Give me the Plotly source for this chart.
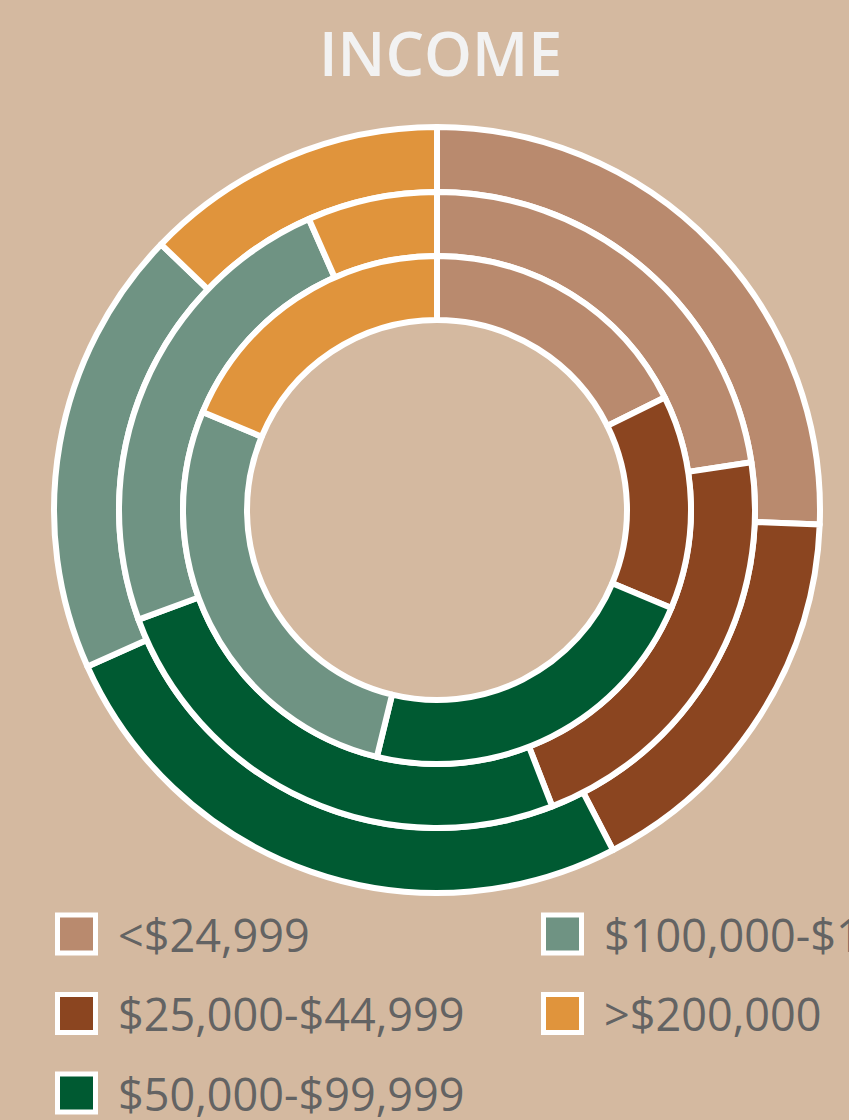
import plotly.graph_objects as go

# ---- data ----
labels = ["<$24,999", "$25,000-$44,999", "$50,000-$99,999", "$100,000-$199,999", ">$200,000"]
colors = ["#B98A6E", "#8B4520", "#005A32", "#6F9383", "#E0943C"]
outer_ring = [25.6, 16.8, 25.9, 18.9, 12.8]
middle_ring = [22.6, 21.5, 25.3, 24.0, 6.6]
inner_ring = [17.7, 13.6, 22.5, 27.5, 18.7]
title_text = "INCOME"

W, H = 849, 1120
BG = "#D4B9A0"
cx, cy = 437, 510


def dom(r):
    return dict(x=[(cx - r) / W, (cx + r) / W],
                y=[(H - cy - r) / H, (H - cy + r) / H])


rings = [(outer_ring, 383, 318), (middle_ring, 318, 254), (inner_ring, 254, 190)]

fig = go.Figure()
for vals, r_out, r_in in rings:
    fig.add_trace(go.Pie(
        labels=labels, values=vals, sort=False, direction="clockwise", rotation=0,
        hole=r_in / r_out, domain=dom(r_out), textinfo="none", hoverinfo="label+value",
        marker=dict(colors=colors, line=dict(color="white", width=6)),
        showlegend=False,
    ))

shapes = []
annotations = [dict(text=title_text, x=440 / W, y=1 - 53 / H, xref="paper", yref="paper",
                    showarrow=False, xanchor="center", yanchor="middle",
                    font=dict(family="Open Sans", size=61, color="#F2F2F2", weight=600))]

# legend (column-major, 3 rows)
col_x = [55, 541]
row_y = [934, 1013.5, 1093]
for i, (lab, col) in enumerate(zip(labels, colors)):
    c, r = divmod(i, 3)
    x0 = col_x[c]
    yc = row_y[r]
    shapes.append(dict(type="rect", xref="paper", yref="paper",
                       x0=(x0 + 2.5) / W, x1=(x0 + 40.5) / W,
                       y0=1 - (yc - 19) / H, y1=1 - (yc + 19) / H,
                       fillcolor=col, line=dict(color="white", width=5)))
    annotations.append(dict(text=lab, x=(x0 + 61) / W, y=1 - yc / H, xref="paper", yref="paper",
                            showarrow=False, xanchor="left", yanchor="middle",
                            font=dict(family="Open Sans", size=45, color="#636363")))

fig.update_layout(
    width=W, height=H, margin=dict(l=0, r=0, t=0, b=0),
    paper_bgcolor=BG, plot_bgcolor=BG,
    shapes=shapes, annotations=annotations,
)

fig.write_html("out.html", config={"displayModeBar": False},
               post_script="document.body.style.margin='0px';document.body.style.overflow='hidden';")
